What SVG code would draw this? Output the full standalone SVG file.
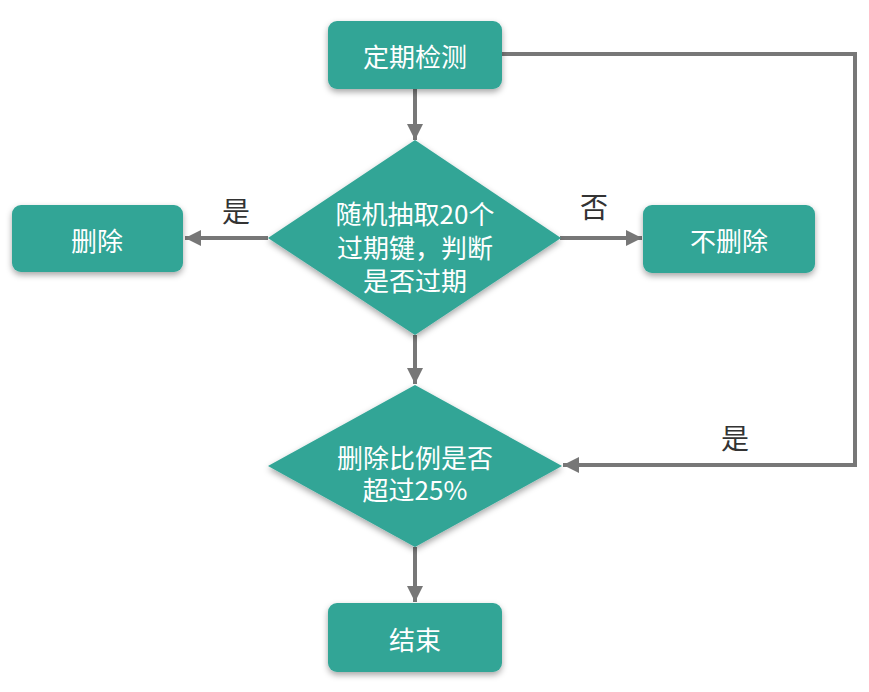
<svg xmlns="http://www.w3.org/2000/svg" width="869" height="692" viewBox="0 0 869 692">
<defs>
<filter id="sh" x="-20%" y="-20%" width="140%" height="150%">
<feDropShadow dx="0" dy="3" stdDeviation="3" flood-color="#000" flood-opacity="0.35"/>
</filter>
<marker id="arr" viewBox="0 0 10 10" refX="10" refY="5" markerWidth="4" markerHeight="4" orient="auto" markerUnits="strokeWidth">
<path d="M0,0 L10,5 L0,10 z" fill="#777"/>
</marker>
<style>
.node{fill:#31A596;filter:url(#sh)}
.t{fill:#fff;font-family:"Noto Sans CJK SC","Noto Sans",sans-serif;font-size:26px;text-anchor:middle;dominant-baseline:central}
.lbl{fill:#333;font-family:"Noto Sans CJK SC","Noto Sans",sans-serif;font-size:28px;text-anchor:middle;dominant-baseline:central}
.c{stroke:#777;stroke-width:4;fill:none;marker-end:url(#arr)}
</style>
</defs>
<rect width="869" height="692" fill="#fff"/>
<g id="connectors">
<path class="c" d="M415,89 L415,140"/>
<path class="c" d="M268,238 L185,238"/>
<path class="c" d="M560,238 L642,238"/>
<path class="c" d="M415,335 L415,384"/>
<path class="c" d="M415,547 L415,602"/>
<path class="c" d="M502,54 L855,54 L855,465 L563,465"/>
<text class="lbl" x="236" y="210">是</text>
<text class="lbl" x="594" y="206">否</text>
<text class="lbl" x="735" y="437">是</text>
</g>
<g id="n1">
<rect class="node" x="328" y="21" width="174" height="68" rx="9"/>
<text class="t" x="415" y="55">定期检测</text>
</g>
<g id="n2">
<polygon class="node" points="415,140 561,238 415,335 268,238"/>
<text class="t" x="415" y="212">随机抽取20个</text>
<text class="t" x="415" y="246">过期键，判断</text>
<text class="t" x="415" y="279">是否过期</text>
</g>
<g id="n3">
<rect class="node" x="12" y="205" width="171" height="67" rx="9"/>
<text class="t" x="97" y="239">删除</text>
</g>
<g id="n4">
<rect class="node" x="643" y="205" width="172" height="68" rx="9"/>
<text class="t" x="729" y="239">不删除</text>
</g>
<g id="n5">
<polygon class="node" points="415,385 562,466 415,547 268,466"/>
<text class="t" x="415" y="456">删除比例是否</text>
<text class="t" x="415" y="488">超过25%</text>
</g>
<g id="n6">
<rect class="node" x="328" y="603" width="174" height="69" rx="9"/>
<text class="t" x="415" y="638">结束</text>
</g>
</svg>
